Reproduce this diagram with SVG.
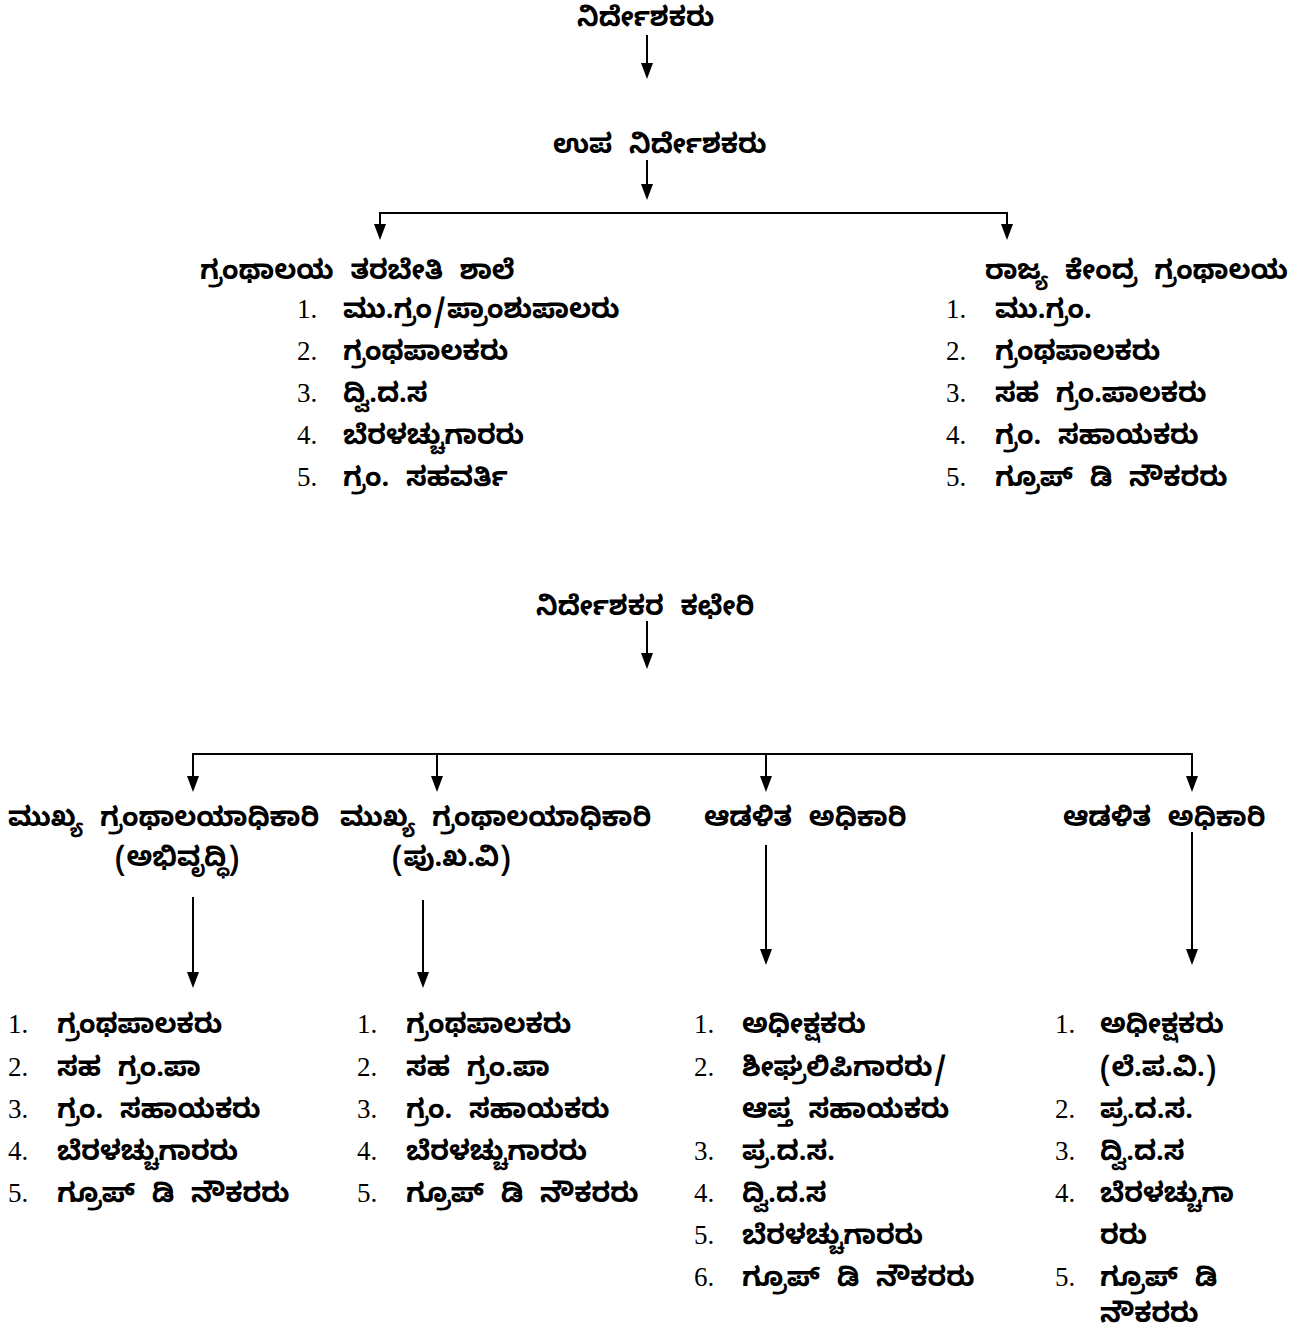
<svg xmlns="http://www.w3.org/2000/svg" width="1307" height="1335" viewBox="0 0 1307 1335">
<defs>
<style>
.k{font-family:"Noto Sans Kannada","Noto Serif Kannada","Lohit Kannada","Tunga","Noto Sans",sans-serif;font-size:27px;font-weight:bold;fill:#000;word-spacing:9px}
.n{font-family:"Liberation Serif","Times New Roman",serif;font-size:27px;fill:#000}
.c{stroke:#000;stroke-width:2;fill:none}
.h{fill:#000}
</style>
</defs>
<rect width="1307" height="1335" fill="#fff"/>
<g id="connectors">
<line class="c" x1="647" y1="35" x2="647" y2="65"/>
<path class="h" d="M641,63 L653,63 L647,79 Z"/>
<line class="c" x1="647" y1="160" x2="647" y2="186"/>
<path class="h" d="M641,184 L653,184 L647,200 Z"/>
<polyline class="c" points="380,226 380,213 1007,213 1007,226"/>
<path class="h" d="M374,224 L386,224 L380,240 Z"/>
<path class="h" d="M1001,224 L1013,224 L1007,240 Z"/>
<line class="c" x1="647" y1="621" x2="647" y2="655"/>
<path class="h" d="M641,653 L653,653 L647,669 Z"/>
<polyline class="c" points="193,778 193,754 1192,754 1192,778"/>
<line class="c" x1="437" y1="754" x2="437" y2="778"/>
<line class="c" x1="766" y1="754" x2="766" y2="778"/>
<path class="h" d="M187,776 L199,776 L193,792 Z"/>
<path class="h" d="M431,776 L443,776 L437,792 Z"/>
<path class="h" d="M760,776 L772,776 L766,792 Z"/>
<path class="h" d="M1186,776 L1198,776 L1192,792 Z"/>
<line class="c" x1="193" y1="897" x2="193" y2="974"/>
<path class="h" d="M187,972 L199,972 L193,988 Z"/>
<line class="c" x1="423" y1="900" x2="423" y2="974"/>
<path class="h" d="M417,972 L429,972 L423,988 Z"/>
<line class="c" x1="766" y1="845" x2="766" y2="951"/>
<path class="h" d="M760,949 L772,949 L766,965 Z"/>
<line class="c" x1="1192" y1="832" x2="1192" y2="951"/>
<path class="h" d="M1186,949 L1198,949 L1192,965 Z"/>
</g>
<g id="n-director"><text class="k" x="577" y="26">ನಿರ್ದೇಶಕರು</text></g>
<g id="n-deputy"><text class="k" x="553" y="153">ಉಪ ನಿರ್ದೇಶಕರು</text></g>
<g id="n-training">
<text class="k" x="200" y="279">ಗ್ರಂಥಾಲಯ ತರಬೇತಿ ಶಾಲೆ</text>
<text class="n" x="297" y="318">1.</text><text class="k" x="343" y="318">ಮು.ಗ್ರಂ/ಪ್ರಾಂಶುಪಾಲರು</text>
<text class="n" x="297" y="360">2.</text><text class="k" x="343" y="360">ಗ್ರಂಥಪಾಲಕರು</text>
<text class="n" x="297" y="402">3.</text><text class="k" x="343" y="402">ದ್ವಿ.ದ.ಸ</text>
<text class="n" x="297" y="444">4.</text><text class="k" x="343" y="444">ಬೆರಳಚ್ಚುಗಾರರು</text>
<text class="n" x="297" y="486">5.</text><text class="k" x="343" y="486">ಗ್ರಂ. ಸಹವರ್ತಿ</text>
</g>
<g id="n-state">
<text class="k" x="985" y="279">ರಾಜ್ಯ ಕೇಂದ್ರ ಗ್ರಂಥಾಲಯ</text>
<text class="n" x="946" y="318">1.</text><text class="k" x="995" y="318">ಮು.ಗ್ರಂ.</text>
<text class="n" x="946" y="360">2.</text><text class="k" x="995" y="360">ಗ್ರಂಥಪಾಲಕರು</text>
<text class="n" x="946" y="402">3.</text><text class="k" x="995" y="402">ಸಹ ಗ್ರಂ.ಪಾಲಕರು</text>
<text class="n" x="946" y="444">4.</text><text class="k" x="995" y="444">ಗ್ರಂ. ಸಹಾಯಕರು</text>
<text class="n" x="946" y="486">5.</text><text class="k" x="995" y="486">ಗ್ರೂಪ್ ಡಿ ನೌಕರರು</text>
</g>
<g id="n-office"><text class="k" x="536" y="615">ನಿರ್ದೇಶಕರ ಕಛೇರಿ</text></g>
<g id="n-chief1">
<text class="k" x="8" y="826">ಮುಖ್ಯ ಗ್ರಂಥಾಲಯಾಧಿಕಾರಿ</text>
<text class="k" x="115" y="866">(ಅಭಿವೃದ್ಧಿ)</text>
</g>
<g id="n-chief2">
<text class="k" x="340" y="826">ಮುಖ್ಯ ಗ್ರಂಥಾಲಯಾಧಿಕಾರಿ</text>
<text class="k" x="392" y="866">(ಪು.ಖ.ವಿ)</text>
</g>
<g id="n-admin1"><text class="k" x="704" y="826">ಆಡಳಿತ ಅಧಿಕಾರಿ</text></g>
<g id="n-admin2"><text class="k" x="1063" y="826">ಆಡಳಿತ ಅಧಿಕಾರಿ</text></g>
<g id="n-list1">
<text class="n" x="8" y="1033">1.</text><text class="k" x="57" y="1033">ಗ್ರಂಥಪಾಲಕರು</text>
<text class="n" x="8" y="1076">2.</text><text class="k" x="57" y="1076">ಸಹ ಗ್ರಂ.ಪಾ</text>
<text class="n" x="8" y="1118">3.</text><text class="k" x="57" y="1118">ಗ್ರಂ. ಸಹಾಯಕರು</text>
<text class="n" x="8" y="1160">4.</text><text class="k" x="57" y="1160">ಬೆರಳಚ್ಚುಗಾರರು</text>
<text class="n" x="8" y="1202">5.</text><text class="k" x="57" y="1202">ಗ್ರೂಪ್ ಡಿ ನೌಕರರು</text>
</g>
<g id="n-list2">
<text class="n" x="357" y="1033">1.</text><text class="k" x="406" y="1033">ಗ್ರಂಥಪಾಲಕರು</text>
<text class="n" x="357" y="1076">2.</text><text class="k" x="406" y="1076">ಸಹ ಗ್ರಂ.ಪಾ</text>
<text class="n" x="357" y="1118">3.</text><text class="k" x="406" y="1118">ಗ್ರಂ. ಸಹಾಯಕರು</text>
<text class="n" x="357" y="1160">4.</text><text class="k" x="406" y="1160">ಬೆರಳಚ್ಚುಗಾರರು</text>
<text class="n" x="357" y="1202">5.</text><text class="k" x="406" y="1202">ಗ್ರೂಪ್ ಡಿ ನೌಕರರು</text>
</g>
<g id="n-list3">
<text class="n" x="694" y="1033">1.</text><text class="k" x="742" y="1033">ಅಧೀಕ್ಷಕರು</text>
<text class="n" x="694" y="1076">2.</text><text class="k" x="742" y="1076">ಶೀಘ್ರಲಿಪಿಗಾರರು/</text>
<text class="k" x="742" y="1118">ಆಪ್ತ ಸಹಾಯಕರು</text>
<text class="n" x="694" y="1160">3.</text><text class="k" x="742" y="1160">ಪ್ರ.ದ.ಸ.</text>
<text class="n" x="694" y="1202">4.</text><text class="k" x="742" y="1202">ದ್ವಿ.ದ.ಸ</text>
<text class="n" x="694" y="1244">5.</text><text class="k" x="742" y="1244">ಬೆರಳಚ್ಚುಗಾರರು</text>
<text class="n" x="694" y="1286">6.</text><text class="k" x="742" y="1286">ಗ್ರೂಪ್ ಡಿ ನೌಕರರು</text>
</g>
<g id="n-list4">
<text class="n" x="1055" y="1033">1.</text><text class="k" x="1100" y="1033">ಅಧೀಕ್ಷಕರು</text>
<text class="k" x="1100" y="1076">(ಲೆ.ಪ.ವಿ.)</text>
<text class="n" x="1055" y="1118">2.</text><text class="k" x="1100" y="1118">ಪ್ರ.ದ.ಸ.</text>
<text class="n" x="1055" y="1160">3.</text><text class="k" x="1100" y="1160">ದ್ವಿ.ದ.ಸ</text>
<text class="n" x="1055" y="1202">4.</text><text class="k" x="1100" y="1202">ಬೆರಳಚ್ಚುಗಾ</text>
<text class="k" x="1100" y="1244">ರರು</text>
<text class="n" x="1055" y="1286">5.</text><text class="k" x="1100" y="1286">ಗ್ರೂಪ್ ಡಿ</text>
<text class="k" x="1100" y="1322">ನೌಕರರು</text>
</g>
</svg>
